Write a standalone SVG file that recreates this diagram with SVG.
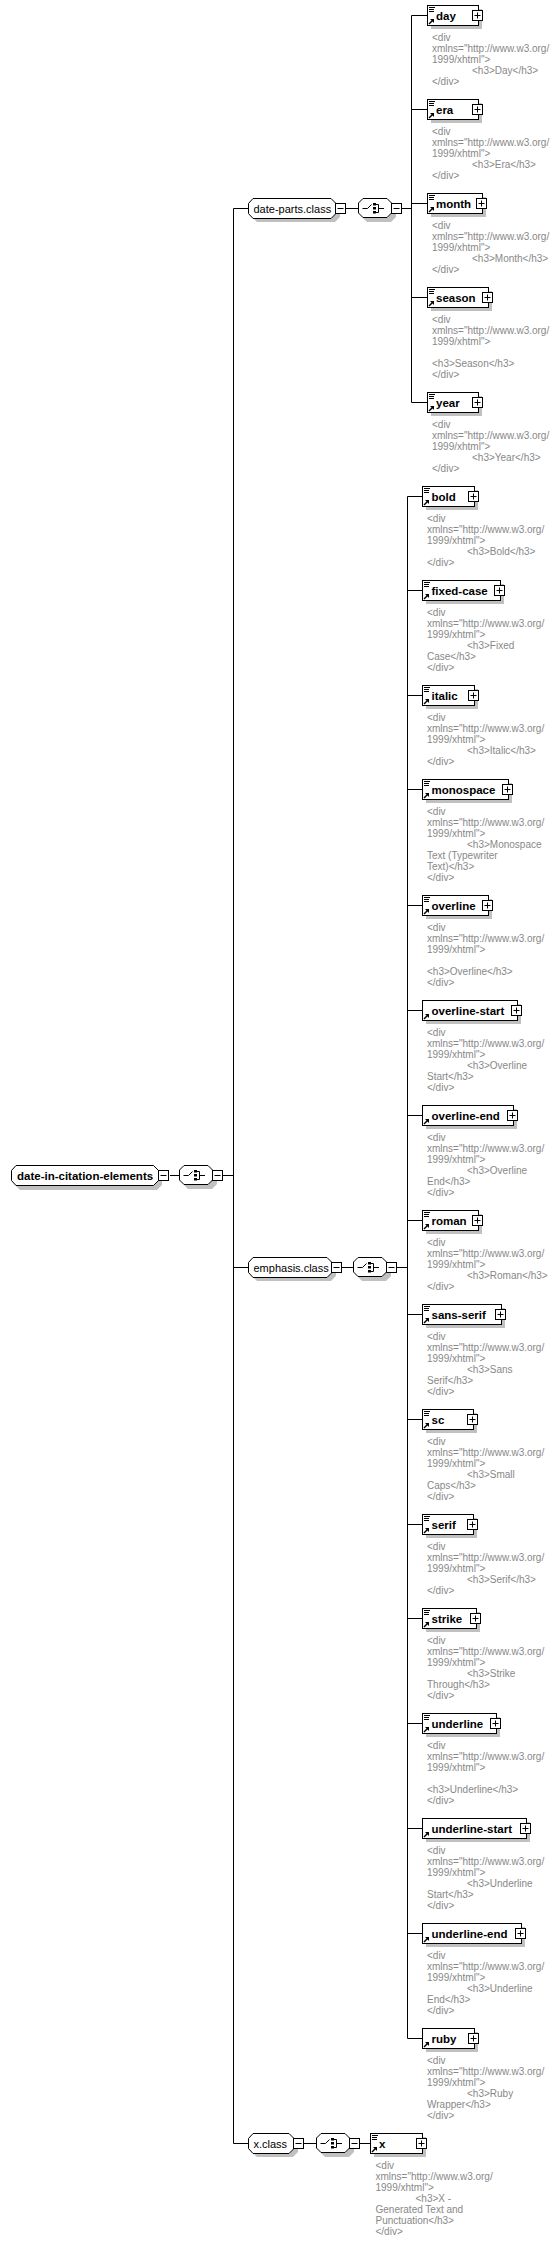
<svg xmlns="http://www.w3.org/2000/svg" width="559" height="2242" viewBox="0 0 559 2242">
<style>
.sh{fill:#c0c0c0}
.bx{fill:#fff;stroke:#000;stroke-width:1}
.ln{stroke:#000;stroke-width:1;fill:none}
.nm{font-family:"Liberation Sans",Arial,sans-serif;font-weight:bold;font-size:11.5px;fill:#000}
.gn{font-family:"Liberation Sans",Arial,sans-serif;font-size:11px;fill:#000}
.an{font-family:"Liberation Sans",Arial,sans-serif;font-size:10px;fill:#888}
</style>
<defs>
<g id="pb"><rect x="1" y="1" width="10" height="10" fill="#000"/><rect x="0.5" y="0.5" width="10" height="10" fill="#fff" stroke="#000"/><path d="M2.5 5.5H8.5M5.5 2.5V8.5" stroke="#000"/></g>
<g id="mb"><rect x="1" y="1" width="10" height="10" fill="#000"/><rect x="0.5" y="0.5" width="10" height="10" fill="#fff" stroke="#000"/><path d="M2.5 5.5H8.5" stroke="#000"/></g>
<g id="doc"><path d="M2 2.5h6M2 4.5h5M2 6.5h5" stroke="#000"/></g>
<g id="ref"><path d="M2 19L5.5 15.5" stroke="#000" stroke-width="1.5"/><path d="M3 14H7V18Z" fill="#000"/></g>
<g id="seq">
<path class="sh" d="M9 4H33L38 9V19L33 24H9L4 19V9Z"/>
<path class="bx" d="M5 0.5H29L33.5 5V15L29 19.5H5L0.5 15V5Z"/>
<path class="ln" d="M4.5 10.5H9.5L13.5 6.5"/>
<rect x="15" y="5" width="3" height="2.5"/><rect x="15" y="9" width="3" height="2.5"/><rect x="15" y="13" width="3" height="2.5"/>
<path class="ln" d="M18 6.5H20.5V14.5H18M20.5 10.5H26"/>
<use href="#mb" x="33" y="5"/>
</g>
</defs>

<g id="connectors">
<path class="ln" d="M170 1175.5H179M223 1175.5H233.5"/>
<path class="ln" d="M233.5 208.5V2143.5M233.5 208.5H248.5M233.5 1267.5H248.5M233.5 2143.5H248.5"/>
<path class="ln" d="M346 208.5H358M402 208.5H411.5M411.5 15.5V402.5"/>
<path class="ln" d="M411.5 15.5H427M411.5 109.5H427M411.5 203.5H427M411.5 297.5H427M411.5 402.5H427"/>
<path class="ln" d="M342 1267.5H353M397 1267.5H407.5M407.5 496.5V2038.5"/>
<path class="ln" d="M407.5 496.5H422M407.5 590.5H422M407.5 695.5H422M407.5 789.5H422M407.5 905.5H422M407.5 1010.5H422M407.5 1115.5H422M407.5 1220.5H422M407.5 1314.5H422M407.5 1419.5H422M407.5 1524.5H422M407.5 1618.5H422M407.5 1723.5H422M407.5 1828.5H422M407.5 1933.5H422M407.5 2038.5H422"/>
<path class="ln" d="M304 2143.5H316M360 2143.5H370"/>
</g>

<g id="n-root">
<path class="sh" d="M20 1170H157L162 1175V1185L157 1190H20L15 1185V1175Z"/>
<path class="bx" d="M16 1165.5H153.5L158.5 1170.5V1180.5L153.5 1185.5H16L11.5 1180.5V1170.5Z"/>
<text class="nm" x="17" y="1180">date-in-citation-elements</text>
<use href="#mb" x="158" y="1170"/>
</g>
<g id="n-root-seq"><use href="#seq" x="179" y="1165"/></g>

<g id="n-date-parts">
<path class="sh" d="M257 202H335L340 207V217L335 222H257L252 217V207Z"/>
<path class="bx" d="M253 198.5H331L336 203.5V213.5L331 218.5H253L248.5 213.5V203.5Z"/>
<text class="gn" x="253.5" y="212.5">date-parts.class</text>
<use href="#mb" x="335" y="203"/>
</g>
<g id="n-date-parts-seq"><use href="#seq" x="358" y="198"/></g>

<g id="n-emphasis">
<path class="sh" d="M257 1261H331L336 1266V1276L331 1281H257L252 1276V1266Z"/>
<path class="bx" d="M253 1257.5H327L332 1262.5V1272.5L327 1277.5H253L248.5 1272.5V1262.5Z"/>
<text class="gn" x="253.5" y="1271.5">emphasis.class</text>
<use href="#mb" x="331" y="1262"/>
</g>
<g id="n-emphasis-seq"><use href="#seq" x="353" y="1257"/></g>

<g id="n-xclass">
<path class="sh" d="M257 2137H293L298 2142V2152L293 2157H257L252 2152V2142Z"/>
<path class="bx" d="M253 2133.5H289L294 2138.5V2148.5L289 2153.5H253L248.5 2148.5V2138.5Z"/>
<text class="gn" x="253.5" y="2147.5">x.class</text>
<use href="#mb" x="293" y="2138"/>
</g>
<g id="n-xclass-seq"><use href="#seq" x="316" y="2133"/></g>

<!-- date-parts children -->
<g id="n-day">
<rect class="sh" x="431" y="9" width="51" height="20"/>
<rect class="bx" x="427.5" y="5.5" width="51" height="20"/>
<use href="#doc" x="427" y="5"/><use href="#ref" x="427" y="5"/>
<text class="nm" x="436" y="19.5">day</text>
<use href="#pb" x="472" y="10"/>
<text class="an" y="41"><tspan x="432">&lt;div</tspan><tspan x="432" dy="11">xmlns="http://www.w3.org/</tspan><tspan x="432" dy="11">1999/xhtml"&gt;</tspan><tspan x="472" dy="11">&lt;h3&gt;Day&lt;/h3&gt;</tspan><tspan x="432" dy="11">&lt;/div&gt;</tspan></text>
</g>
<g id="n-era">
<rect class="sh" x="431" y="103" width="51" height="20"/>
<rect class="bx" x="427.5" y="99.5" width="51" height="20"/>
<use href="#doc" x="427" y="99"/><use href="#ref" x="427" y="99"/>
<text class="nm" x="436" y="113.5">era</text>
<use href="#pb" x="472" y="104"/>
<text class="an" y="135"><tspan x="432">&lt;div</tspan><tspan x="432" dy="11">xmlns="http://www.w3.org/</tspan><tspan x="432" dy="11">1999/xhtml"&gt;</tspan><tspan x="472" dy="11">&lt;h3&gt;Era&lt;/h3&gt;</tspan><tspan x="432" dy="11">&lt;/div&gt;</tspan></text>
</g>
<g id="n-month">
<rect class="sh" x="431" y="197" width="55" height="20"/>
<rect class="bx" x="427.5" y="193.5" width="55" height="20"/>
<use href="#doc" x="427" y="193"/><use href="#ref" x="427" y="193"/>
<text class="nm" x="436" y="207.5">month</text>
<use href="#pb" x="476" y="198"/>
<text class="an" y="229"><tspan x="432">&lt;div</tspan><tspan x="432" dy="11">xmlns="http://www.w3.org/</tspan><tspan x="432" dy="11">1999/xhtml"&gt;</tspan><tspan x="472" dy="11">&lt;h3&gt;Month&lt;/h3&gt;</tspan><tspan x="432" dy="11">&lt;/div&gt;</tspan></text>
</g>
<g id="n-season">
<rect class="sh" x="431" y="291" width="61" height="20"/>
<rect class="bx" x="427.5" y="287.5" width="61" height="20"/>
<use href="#doc" x="427" y="287"/><use href="#ref" x="427" y="287"/>
<text class="nm" x="436" y="301.5">season</text>
<use href="#pb" x="482" y="292"/>
<text class="an" y="323"><tspan x="432">&lt;div</tspan><tspan x="432" dy="11">xmlns="http://www.w3.org/</tspan><tspan x="432" dy="11">1999/xhtml"&gt;</tspan><tspan x="432" dy="22">&lt;h3&gt;Season&lt;/h3&gt;</tspan><tspan x="432" dy="11">&lt;/div&gt;</tspan></text>
</g>
<g id="n-year">
<rect class="sh" x="431" y="396" width="51" height="20"/>
<rect class="bx" x="427.5" y="392.5" width="51" height="20"/>
<use href="#doc" x="427" y="392"/><use href="#ref" x="427" y="392"/>
<text class="nm" x="436" y="406.5">year</text>
<use href="#pb" x="472" y="397"/>
<text class="an" y="428"><tspan x="432">&lt;div</tspan><tspan x="432" dy="11">xmlns="http://www.w3.org/</tspan><tspan x="432" dy="11">1999/xhtml"&gt;</tspan><tspan x="472" dy="11">&lt;h3&gt;Year&lt;/h3&gt;</tspan><tspan x="432" dy="11">&lt;/div&gt;</tspan></text>
</g>

<!-- emphasis children -->
<g id="n-bold">
<rect class="sh" x="426" y="490" width="52" height="20"/>
<rect class="bx" x="422.5" y="486.5" width="52" height="20"/>
<use href="#doc" x="422" y="486"/><use href="#ref" x="422" y="486"/>
<text class="nm" x="431.5" y="500.5">bold</text>
<use href="#pb" x="468" y="491"/>
<text class="an" y="522"><tspan x="427">&lt;div</tspan><tspan x="427" dy="11">xmlns="http://www.w3.org/</tspan><tspan x="427" dy="11">1999/xhtml"&gt;</tspan><tspan x="467" dy="11">&lt;h3&gt;Bold&lt;/h3&gt;</tspan><tspan x="427" dy="11">&lt;/div&gt;</tspan></text>
</g>
<g id="n-fixed-case">
<rect class="sh" x="426" y="584" width="78" height="20"/>
<rect class="bx" x="422.5" y="580.5" width="78" height="20"/>
<use href="#doc" x="422" y="580"/><use href="#ref" x="422" y="580"/>
<text class="nm" x="431.5" y="594.5">fixed-case</text>
<use href="#pb" x="494" y="585"/>
<text class="an" y="616"><tspan x="427">&lt;div</tspan><tspan x="427" dy="11">xmlns="http://www.w3.org/</tspan><tspan x="427" dy="11">1999/xhtml"&gt;</tspan><tspan x="467" dy="11">&lt;h3&gt;Fixed</tspan><tspan x="427" dy="11">Case&lt;/h3&gt;</tspan><tspan x="427" dy="11">&lt;/div&gt;</tspan></text>
</g>
<g id="n-italic">
<rect class="sh" x="426" y="689" width="52" height="20"/>
<rect class="bx" x="422.5" y="685.5" width="52" height="20"/>
<use href="#doc" x="422" y="685"/><use href="#ref" x="422" y="685"/>
<text class="nm" x="431.5" y="699.5">italic</text>
<use href="#pb" x="468" y="690"/>
<text class="an" y="721"><tspan x="427">&lt;div</tspan><tspan x="427" dy="11">xmlns="http://www.w3.org/</tspan><tspan x="427" dy="11">1999/xhtml"&gt;</tspan><tspan x="467" dy="11">&lt;h3&gt;Italic&lt;/h3&gt;</tspan><tspan x="427" dy="11">&lt;/div&gt;</tspan></text>
</g>
<g id="n-monospace">
<rect class="sh" x="426" y="783" width="86" height="20"/>
<rect class="bx" x="422.5" y="779.5" width="86" height="20"/>
<use href="#doc" x="422" y="779"/><use href="#ref" x="422" y="779"/>
<text class="nm" x="431.5" y="793.5">monospace</text>
<use href="#pb" x="502" y="784"/>
<text class="an" y="815"><tspan x="427">&lt;div</tspan><tspan x="427" dy="11">xmlns="http://www.w3.org/</tspan><tspan x="427" dy="11">1999/xhtml"&gt;</tspan><tspan x="467" dy="11">&lt;h3&gt;Monospace</tspan><tspan x="427" dy="11">Text (Typewriter</tspan><tspan x="427" dy="11">Text)&lt;/h3&gt;</tspan><tspan x="427" dy="11">&lt;/div&gt;</tspan></text>
</g>
<g id="n-overline">
<rect class="sh" x="426" y="899" width="66" height="20"/>
<rect class="bx" x="422.5" y="895.5" width="66" height="20"/>
<use href="#doc" x="422" y="895"/><use href="#ref" x="422" y="895"/>
<text class="nm" x="431.5" y="909.5">overline</text>
<use href="#pb" x="482" y="900"/>
<text class="an" y="931"><tspan x="427">&lt;div</tspan><tspan x="427" dy="11">xmlns="http://www.w3.org/</tspan><tspan x="427" dy="11">1999/xhtml"&gt;</tspan><tspan x="427" dy="22">&lt;h3&gt;Overline&lt;/h3&gt;</tspan><tspan x="427" dy="11">&lt;/div&gt;</tspan></text>
</g>
<g id="n-overline-start">
<rect class="sh" x="426" y="1004" width="95" height="20"/>
<rect class="bx" x="422.5" y="1000.5" width="95" height="20"/>
<use href="#ref" x="422" y="1000"/>
<text class="nm" x="431.5" y="1014.5">overline-start</text>
<use href="#pb" x="511" y="1005"/>
<text class="an" y="1036"><tspan x="427">&lt;div</tspan><tspan x="427" dy="11">xmlns="http://www.w3.org/</tspan><tspan x="427" dy="11">1999/xhtml"&gt;</tspan><tspan x="467" dy="11">&lt;h3&gt;Overline</tspan><tspan x="427" dy="11">Start&lt;/h3&gt;</tspan><tspan x="427" dy="11">&lt;/div&gt;</tspan></text>
</g>
<g id="n-overline-end">
<rect class="sh" x="426" y="1109" width="91" height="20"/>
<rect class="bx" x="422.5" y="1105.5" width="91" height="20"/>
<use href="#ref" x="422" y="1105"/>
<text class="nm" x="431.5" y="1119.5">overline-end</text>
<use href="#pb" x="507" y="1110"/>
<text class="an" y="1141"><tspan x="427">&lt;div</tspan><tspan x="427" dy="11">xmlns="http://www.w3.org/</tspan><tspan x="427" dy="11">1999/xhtml"&gt;</tspan><tspan x="467" dy="11">&lt;h3&gt;Overline</tspan><tspan x="427" dy="11">End&lt;/h3&gt;</tspan><tspan x="427" dy="11">&lt;/div&gt;</tspan></text>
</g>
<g id="n-roman">
<rect class="sh" x="426" y="1214" width="56" height="20"/>
<rect class="bx" x="422.5" y="1210.5" width="56" height="20"/>
<use href="#doc" x="422" y="1210"/><use href="#ref" x="422" y="1210"/>
<text class="nm" x="431.5" y="1224.5">roman</text>
<use href="#pb" x="472" y="1215"/>
<text class="an" y="1246"><tspan x="427">&lt;div</tspan><tspan x="427" dy="11">xmlns="http://www.w3.org/</tspan><tspan x="427" dy="11">1999/xhtml"&gt;</tspan><tspan x="467" dy="11">&lt;h3&gt;Roman&lt;/h3&gt;</tspan><tspan x="427" dy="11">&lt;/div&gt;</tspan></text>
</g>
<g id="n-sans-serif">
<rect class="sh" x="426" y="1308" width="79" height="20"/>
<rect class="bx" x="422.5" y="1304.5" width="79" height="20"/>
<use href="#doc" x="422" y="1304"/><use href="#ref" x="422" y="1304"/>
<text class="nm" x="431.5" y="1318.5">sans-serif</text>
<use href="#pb" x="495" y="1309"/>
<text class="an" y="1340"><tspan x="427">&lt;div</tspan><tspan x="427" dy="11">xmlns="http://www.w3.org/</tspan><tspan x="427" dy="11">1999/xhtml"&gt;</tspan><tspan x="467" dy="11">&lt;h3&gt;Sans</tspan><tspan x="427" dy="11">Serif&lt;/h3&gt;</tspan><tspan x="427" dy="11">&lt;/div&gt;</tspan></text>
</g>
<g id="n-sc">
<rect class="sh" x="426" y="1413" width="51" height="20"/>
<rect class="bx" x="422.5" y="1409.5" width="51" height="20"/>
<use href="#doc" x="422" y="1409"/><use href="#ref" x="422" y="1409"/>
<text class="nm" x="431.5" y="1423.5">sc</text>
<use href="#pb" x="467" y="1414"/>
<text class="an" y="1445"><tspan x="427">&lt;div</tspan><tspan x="427" dy="11">xmlns="http://www.w3.org/</tspan><tspan x="427" dy="11">1999/xhtml"&gt;</tspan><tspan x="467" dy="11">&lt;h3&gt;Small</tspan><tspan x="427" dy="11">Caps&lt;/h3&gt;</tspan><tspan x="427" dy="11">&lt;/div&gt;</tspan></text>
</g>
<g id="n-serif">
<rect class="sh" x="426" y="1518" width="51" height="20"/>
<rect class="bx" x="422.5" y="1514.5" width="51" height="20"/>
<use href="#doc" x="422" y="1514"/><use href="#ref" x="422" y="1514"/>
<text class="nm" x="431.5" y="1528.5">serif</text>
<use href="#pb" x="467" y="1519"/>
<text class="an" y="1550"><tspan x="427">&lt;div</tspan><tspan x="427" dy="11">xmlns="http://www.w3.org/</tspan><tspan x="427" dy="11">1999/xhtml"&gt;</tspan><tspan x="467" dy="11">&lt;h3&gt;Serif&lt;/h3&gt;</tspan><tspan x="427" dy="11">&lt;/div&gt;</tspan></text>
</g>
<g id="n-strike">
<rect class="sh" x="426" y="1612" width="54" height="20"/>
<rect class="bx" x="422.5" y="1608.5" width="54" height="20"/>
<use href="#doc" x="422" y="1608"/><use href="#ref" x="422" y="1608"/>
<text class="nm" x="431.5" y="1622.5">strike</text>
<use href="#pb" x="470" y="1613"/>
<text class="an" y="1644"><tspan x="427">&lt;div</tspan><tspan x="427" dy="11">xmlns="http://www.w3.org/</tspan><tspan x="427" dy="11">1999/xhtml"&gt;</tspan><tspan x="467" dy="11">&lt;h3&gt;Strike</tspan><tspan x="427" dy="11">Through&lt;/h3&gt;</tspan><tspan x="427" dy="11">&lt;/div&gt;</tspan></text>
</g>
<g id="n-underline">
<rect class="sh" x="426" y="1717" width="74" height="20"/>
<rect class="bx" x="422.5" y="1713.5" width="74" height="20"/>
<use href="#doc" x="422" y="1713"/><use href="#ref" x="422" y="1713"/>
<text class="nm" x="431.5" y="1727.5">underline</text>
<use href="#pb" x="490" y="1718"/>
<text class="an" y="1749"><tspan x="427">&lt;div</tspan><tspan x="427" dy="11">xmlns="http://www.w3.org/</tspan><tspan x="427" dy="11">1999/xhtml"&gt;</tspan><tspan x="427" dy="22">&lt;h3&gt;Underline&lt;/h3&gt;</tspan><tspan x="427" dy="11">&lt;/div&gt;</tspan></text>
</g>
<g id="n-underline-start">
<rect class="sh" x="426" y="1822" width="104" height="20"/>
<rect class="bx" x="422.5" y="1818.5" width="104" height="20"/>
<use href="#ref" x="422" y="1818"/>
<text class="nm" x="431.5" y="1832.5">underline-start</text>
<use href="#pb" x="520" y="1823"/>
<text class="an" y="1854"><tspan x="427">&lt;div</tspan><tspan x="427" dy="11">xmlns="http://www.w3.org/</tspan><tspan x="427" dy="11">1999/xhtml"&gt;</tspan><tspan x="467" dy="11">&lt;h3&gt;Underline</tspan><tspan x="427" dy="11">Start&lt;/h3&gt;</tspan><tspan x="427" dy="11">&lt;/div&gt;</tspan></text>
</g>
<g id="n-underline-end">
<rect class="sh" x="426" y="1927" width="99" height="20"/>
<rect class="bx" x="422.5" y="1923.5" width="99" height="20"/>
<use href="#ref" x="422" y="1923"/>
<text class="nm" x="431.5" y="1937.5">underline-end</text>
<use href="#pb" x="515" y="1928"/>
<text class="an" y="1959"><tspan x="427">&lt;div</tspan><tspan x="427" dy="11">xmlns="http://www.w3.org/</tspan><tspan x="427" dy="11">1999/xhtml"&gt;</tspan><tspan x="467" dy="11">&lt;h3&gt;Underline</tspan><tspan x="427" dy="11">End&lt;/h3&gt;</tspan><tspan x="427" dy="11">&lt;/div&gt;</tspan></text>
</g>
<g id="n-ruby">
<rect class="sh" x="426" y="2032" width="52" height="20"/>
<rect class="bx" x="422.5" y="2028.5" width="52" height="20"/>
<use href="#ref" x="422" y="2028"/>
<text class="nm" x="431.5" y="2042.5">ruby</text>
<use href="#pb" x="468" y="2033"/>
<text class="an" y="2064"><tspan x="427">&lt;div</tspan><tspan x="427" dy="11">xmlns="http://www.w3.org/</tspan><tspan x="427" dy="11">1999/xhtml"&gt;</tspan><tspan x="467" dy="11">&lt;h3&gt;Ruby</tspan><tspan x="427" dy="11">Wrapper&lt;/h3&gt;</tspan><tspan x="427" dy="11">&lt;/div&gt;</tspan></text>
</g>

<!-- x -->
<g id="n-x">
<rect class="sh" x="374" y="2137" width="52" height="20"/>
<rect class="bx" x="370.5" y="2133.5" width="52" height="20"/>
<use href="#doc" x="370" y="2133"/><use href="#ref" x="370" y="2133"/>
<text class="nm" x="379" y="2147.5">x</text>
<use href="#pb" x="416" y="2138"/>
<text class="an" y="2169"><tspan x="375.5">&lt;div</tspan><tspan x="375.5" dy="11">xmlns="http://www.w3.org/</tspan><tspan x="375.5" dy="11">1999/xhtml"&gt;</tspan><tspan x="415.5" dy="11">&lt;h3&gt;X -</tspan><tspan x="375.5" dy="11">Generated Text and</tspan><tspan x="375.5" dy="11">Punctuation&lt;/h3&gt;</tspan><tspan x="375.5" dy="11">&lt;/div&gt;</tspan></text>
</g>
</svg>
